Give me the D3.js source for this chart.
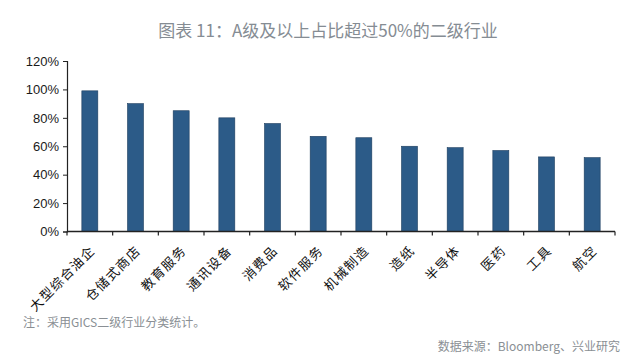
<!DOCTYPE html>
<html><head><meta charset="utf-8">
<script src="https://cdn.jsdelivr.net/npm/d3@7"></script>
<style>
html,body{margin:0;padding:0;background:#fff;}
svg{display:block;}
text{font-family:"Noto Sans CJK SC","Noto Sans",sans-serif;}
</style></head>
<body>
<svg id="chart" width="640" height="362"></svg>
<script>
const title = "图表 11：A级及以上占比超过50%的二级行业";
const categories = ["大型综合油企","仓储式商店","教育服务","通讯设备","消费品","软件服务","机械制造","造纸","半导体","医药","工具","航空"];
const values = [0.99,0.90,0.85,0.80,0.76,0.67,0.66,0.60,0.59,0.57,0.525,0.52];
const yTicks = [0,0.2,0.4,0.6,0.8,1.0,1.2];
const note = "注：采用GICS二级行业分类统计。";
const source = "数据来源：Bloomberg、兴业研究";

const svg = d3.select("#chart");
const x = d3.scaleBand().domain(categories).range([67,615]).paddingInner(0.65).paddingOuter(0.325);
const y = d3.scaleLinear().domain([0,1.2]).range([231.5,61]);

svg.append("text").attr("x",328).attr("y",37).attr("text-anchor","middle")
  .attr("font-size",17).attr("fill","#858c93").text(title);

svg.selectAll("rect.bar").data(values).enter().append("rect")
  .attr("class","bar")
  .attr("x",(d,i)=>x(categories[i]))
  .attr("width",x.bandwidth())
  .attr("y",d=>y(d))
  .attr("height",d=>y(0)-y(d))
  .attr("fill","#2c5b88")
  .attr("stroke","#1d3d5e").attr("stroke-width",0.6);

// Y axis
const ya = svg.append("g").attr("transform","translate(67,0)")
  .call(d3.axisLeft(y).tickValues(yTicks).tickSize(4).tickPadding(4).tickFormat(d3.format(".0%")));
ya.select(".domain").attr("stroke","#222").attr("stroke-width",1.2);
ya.selectAll(".tick line").attr("stroke","#222");
ya.selectAll("text").attr("font-size",13).attr("fill","#1a1a1a")
  .style("font-family","'Liberation Sans',Arial,sans-serif");

// X axis with ticks at band boundaries
const bounds = d3.range(categories.length+1).map(i=>67 + i*(548/categories.length));
const xa = svg.append("g");
xa.append("line").attr("x1",67).attr("x2",615).attr("y1",y(0)).attr("y2",y(0))
  .attr("stroke","#222").attr("stroke-width",1.5);
xa.selectAll("line.tk").data(bounds).enter().append("line").attr("class","tk")
  .attr("x1",d=>d).attr("x2",d=>d).attr("y1",y(0)).attr("y2",y(0)+4)
  .attr("stroke","#222").attr("stroke-width",1.2);
xa.selectAll("text").data(categories).enter().append("text")
  .attr("transform",d=>`translate(${x(d)+x.bandwidth()/2+6},${y(0)+20}) rotate(-45)`)
  .attr("text-anchor","end").attr("font-size",13).attr("fill","#111")
  .attr("letter-spacing","1.3px")
  .text(d=>d);

svg.append("text").attr("x",23).attr("y",327).attr("font-size",12).attr("fill","#8a8f94").text(note);
svg.append("text").attr("x",620).attr("y",351).attr("text-anchor","end").attr("font-size",12).attr("fill","#8a8f94").text(source);
</script>
</body></html>
